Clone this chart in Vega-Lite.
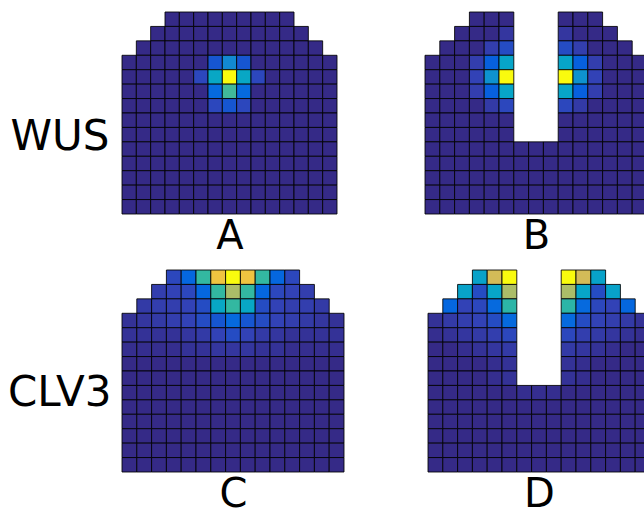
{
"$schema": "https://vega.github.io/schema/vega-lite/v6.json",
"padding": {"left": 7, "top": 11, "right": 0, "bottom": 0},
"background": "white",
"config": {
 "view": {"stroke": null},
 "scale": {"bandPaddingInner": 0, "bandPaddingOuter": 0, "rectBandPaddingInner": 0},
 "axis": {"labels": false, "ticks": false, "domain": false, "grid": false, "titleFont": "DejaVu Sans", "titleFontWeight": "normal", "titleColor": "#000", "titleBaseline": "alphabetic"}
},
"datasets": {
"A": [
{"r":0,"c":3,"v":0},{"r":0,"c":4,"v":0},{"r":0,"c":5,"v":0},{"r":0,"c":6,"v":0},{"r":0,"c":7,"v":0},{"r":0,"c":8,"v":0},{"r":0,"c":9,"v":0},{"r":0,"c":10,"v":0},{"r":0,"c":11,"v":0},
{"r":1,"c":2,"v":0},{"r":1,"c":3,"v":0},{"r":1,"c":4,"v":0},{"r":1,"c":5,"v":0},{"r":1,"c":6,"v":0},{"r":1,"c":7,"v":0},{"r":1,"c":8,"v":0},{"r":1,"c":9,"v":0},{"r":1,"c":10,"v":0},{"r":1,"c":11,"v":0},{"r":1,"c":12,"v":0},
{"r":2,"c":1,"v":0},{"r":2,"c":2,"v":0},{"r":2,"c":3,"v":0},{"r":2,"c":4,"v":0},{"r":2,"c":5,"v":0},{"r":2,"c":6,"v":0},{"r":2,"c":7,"v":0},{"r":2,"c":8,"v":0},{"r":2,"c":9,"v":0},{"r":2,"c":10,"v":0},{"r":2,"c":11,"v":0},{"r":2,"c":12,"v":0},{"r":2,"c":13,"v":0},
{"r":3,"c":0,"v":0},{"r":3,"c":1,"v":0},{"r":3,"c":2,"v":0},{"r":3,"c":3,"v":0},{"r":3,"c":4,"v":0},{"r":3,"c":5,"v":0},{"r":3,"c":6,"v":0.1},{"r":3,"c":7,"v":0.27},{"r":3,"c":8,"v":0.1},{"r":3,"c":9,"v":0},{"r":3,"c":10,"v":0},{"r":3,"c":11,"v":0},{"r":3,"c":12,"v":0},{"r":3,"c":13,"v":0},{"r":3,"c":14,"v":0},
{"r":4,"c":0,"v":0},{"r":4,"c":1,"v":0},{"r":4,"c":2,"v":0},{"r":4,"c":3,"v":0},{"r":4,"c":4,"v":0},{"r":4,"c":5,"v":0.07},{"r":4,"c":6,"v":0.38},{"r":4,"c":7,"v":1},{"r":4,"c":8,"v":0.38},{"r":4,"c":9,"v":0.07},{"r":4,"c":10,"v":0},{"r":4,"c":11,"v":0},{"r":4,"c":12,"v":0},{"r":4,"c":13,"v":0},{"r":4,"c":14,"v":0},
{"r":5,"c":0,"v":0},{"r":5,"c":1,"v":0},{"r":5,"c":2,"v":0},{"r":5,"c":3,"v":0},{"r":5,"c":4,"v":0},{"r":5,"c":5,"v":0},{"r":5,"c":6,"v":0.15},{"r":5,"c":7,"v":0.52},{"r":5,"c":8,"v":0.15},{"r":5,"c":9,"v":0},{"r":5,"c":10,"v":0},{"r":5,"c":11,"v":0},{"r":5,"c":12,"v":0},{"r":5,"c":13,"v":0},{"r":5,"c":14,"v":0},
{"r":6,"c":0,"v":0},{"r":6,"c":1,"v":0},{"r":6,"c":2,"v":0},{"r":6,"c":3,"v":0},{"r":6,"c":4,"v":0},{"r":6,"c":5,"v":0},{"r":6,"c":6,"v":0.07},{"r":6,"c":7,"v":0.1},{"r":6,"c":8,"v":0.07},{"r":6,"c":9,"v":0},{"r":6,"c":10,"v":0},{"r":6,"c":11,"v":0},{"r":6,"c":12,"v":0},{"r":6,"c":13,"v":0},{"r":6,"c":14,"v":0},
{"r":7,"c":0,"v":0},{"r":7,"c":1,"v":0},{"r":7,"c":2,"v":0},{"r":7,"c":3,"v":0},{"r":7,"c":4,"v":0},{"r":7,"c":5,"v":0},{"r":7,"c":6,"v":0},{"r":7,"c":7,"v":0},{"r":7,"c":8,"v":0},{"r":7,"c":9,"v":0},{"r":7,"c":10,"v":0},{"r":7,"c":11,"v":0},{"r":7,"c":12,"v":0},{"r":7,"c":13,"v":0},{"r":7,"c":14,"v":0},
{"r":8,"c":0,"v":0},{"r":8,"c":1,"v":0},{"r":8,"c":2,"v":0},{"r":8,"c":3,"v":0},{"r":8,"c":4,"v":0},{"r":8,"c":5,"v":0},{"r":8,"c":6,"v":0},{"r":8,"c":7,"v":0},{"r":8,"c":8,"v":0},{"r":8,"c":9,"v":0},{"r":8,"c":10,"v":0},{"r":8,"c":11,"v":0},{"r":8,"c":12,"v":0},{"r":8,"c":13,"v":0},{"r":8,"c":14,"v":0},
{"r":9,"c":0,"v":0},{"r":9,"c":1,"v":0},{"r":9,"c":2,"v":0},{"r":9,"c":3,"v":0},{"r":9,"c":4,"v":0},{"r":9,"c":5,"v":0},{"r":9,"c":6,"v":0},{"r":9,"c":7,"v":0},{"r":9,"c":8,"v":0},{"r":9,"c":9,"v":0},{"r":9,"c":10,"v":0},{"r":9,"c":11,"v":0},{"r":9,"c":12,"v":0},{"r":9,"c":13,"v":0},{"r":9,"c":14,"v":0},
{"r":10,"c":0,"v":0},{"r":10,"c":1,"v":0},{"r":10,"c":2,"v":0},{"r":10,"c":3,"v":0},{"r":10,"c":4,"v":0},{"r":10,"c":5,"v":0},{"r":10,"c":6,"v":0},{"r":10,"c":7,"v":0},{"r":10,"c":8,"v":0},{"r":10,"c":9,"v":0},{"r":10,"c":10,"v":0},{"r":10,"c":11,"v":0},{"r":10,"c":12,"v":0},{"r":10,"c":13,"v":0},{"r":10,"c":14,"v":0},
{"r":11,"c":0,"v":0},{"r":11,"c":1,"v":0},{"r":11,"c":2,"v":0},{"r":11,"c":3,"v":0},{"r":11,"c":4,"v":0},{"r":11,"c":5,"v":0},{"r":11,"c":6,"v":0},{"r":11,"c":7,"v":0},{"r":11,"c":8,"v":0},{"r":11,"c":9,"v":0},{"r":11,"c":10,"v":0},{"r":11,"c":11,"v":0},{"r":11,"c":12,"v":0},{"r":11,"c":13,"v":0},{"r":11,"c":14,"v":0},
{"r":12,"c":0,"v":0},{"r":12,"c":1,"v":0},{"r":12,"c":2,"v":0},{"r":12,"c":3,"v":0},{"r":12,"c":4,"v":0},{"r":12,"c":5,"v":0},{"r":12,"c":6,"v":0},{"r":12,"c":7,"v":0},{"r":12,"c":8,"v":0},{"r":12,"c":9,"v":0},{"r":12,"c":10,"v":0},{"r":12,"c":11,"v":0},{"r":12,"c":12,"v":0},{"r":12,"c":13,"v":0},{"r":12,"c":14,"v":0},
{"r":13,"c":0,"v":0},{"r":13,"c":1,"v":0},{"r":13,"c":2,"v":0},{"r":13,"c":3,"v":0},{"r":13,"c":4,"v":0},{"r":13,"c":5,"v":0},{"r":13,"c":6,"v":0},{"r":13,"c":7,"v":0},{"r":13,"c":8,"v":0},{"r":13,"c":9,"v":0},{"r":13,"c":10,"v":0},{"r":13,"c":11,"v":0},{"r":13,"c":12,"v":0},{"r":13,"c":13,"v":0},{"r":13,"c":14,"v":0}
],
"B": [
{"r":0,"c":3,"v":0},{"r":0,"c":4,"v":0},{"r":0,"c":5,"v":0},{"r":0,"c":9,"v":0},{"r":0,"c":10,"v":0},{"r":0,"c":11,"v":0},
{"r":1,"c":2,"v":0},{"r":1,"c":3,"v":0},{"r":1,"c":4,"v":0},{"r":1,"c":5,"v":0.03},{"r":1,"c":9,"v":0.03},{"r":1,"c":10,"v":0},{"r":1,"c":11,"v":0},{"r":1,"c":12,"v":0},
{"r":2,"c":1,"v":0},{"r":2,"c":2,"v":0},{"r":2,"c":3,"v":0},{"r":2,"c":4,"v":0.05},{"r":2,"c":5,"v":0.08},{"r":2,"c":9,"v":0.08},{"r":2,"c":10,"v":0.05},{"r":2,"c":11,"v":0},{"r":2,"c":12,"v":0},{"r":2,"c":13,"v":0},
{"r":3,"c":0,"v":0},{"r":3,"c":1,"v":0},{"r":3,"c":2,"v":0},{"r":3,"c":3,"v":0.05},{"r":3,"c":4,"v":0.12},{"r":3,"c":5,"v":0.37},{"r":3,"c":9,"v":0.37},{"r":3,"c":10,"v":0.12},{"r":3,"c":11,"v":0.05},{"r":3,"c":12,"v":0},{"r":3,"c":13,"v":0},{"r":3,"c":14,"v":0},
{"r":4,"c":0,"v":0},{"r":4,"c":1,"v":0},{"r":4,"c":2,"v":0},{"r":4,"c":3,"v":0.06},{"r":4,"c":4,"v":0.3},{"r":4,"c":5,"v":1},{"r":4,"c":9,"v":1},{"r":4,"c":10,"v":0.3},{"r":4,"c":11,"v":0.06},{"r":4,"c":12,"v":0},{"r":4,"c":13,"v":0},{"r":4,"c":14,"v":0},
{"r":5,"c":0,"v":0},{"r":5,"c":1,"v":0},{"r":5,"c":2,"v":0},{"r":5,"c":3,"v":0.05},{"r":5,"c":4,"v":0.12},{"r":5,"c":5,"v":0.37},{"r":5,"c":9,"v":0.37},{"r":5,"c":10,"v":0.12},{"r":5,"c":11,"v":0.05},{"r":5,"c":12,"v":0},{"r":5,"c":13,"v":0},{"r":5,"c":14,"v":0},
{"r":6,"c":0,"v":0},{"r":6,"c":1,"v":0},{"r":6,"c":2,"v":0},{"r":6,"c":3,"v":0},{"r":6,"c":4,"v":0.04},{"r":6,"c":5,"v":0.07},{"r":6,"c":9,"v":0.07},{"r":6,"c":10,"v":0.04},{"r":6,"c":11,"v":0},{"r":6,"c":12,"v":0},{"r":6,"c":13,"v":0},{"r":6,"c":14,"v":0},
{"r":7,"c":0,"v":0},{"r":7,"c":1,"v":0},{"r":7,"c":2,"v":0},{"r":7,"c":3,"v":0},{"r":7,"c":4,"v":0},{"r":7,"c":5,"v":0},{"r":7,"c":9,"v":0},{"r":7,"c":10,"v":0},{"r":7,"c":11,"v":0},{"r":7,"c":12,"v":0},{"r":7,"c":13,"v":0},{"r":7,"c":14,"v":0},
{"r":8,"c":0,"v":0},{"r":8,"c":1,"v":0},{"r":8,"c":2,"v":0},{"r":8,"c":3,"v":0},{"r":8,"c":4,"v":0},{"r":8,"c":5,"v":0},{"r":8,"c":9,"v":0},{"r":8,"c":10,"v":0},{"r":8,"c":11,"v":0},{"r":8,"c":12,"v":0},{"r":8,"c":13,"v":0},{"r":8,"c":14,"v":0},
{"r":9,"c":0,"v":0},{"r":9,"c":1,"v":0},{"r":9,"c":2,"v":0},{"r":9,"c":3,"v":0},{"r":9,"c":4,"v":0},{"r":9,"c":5,"v":0},{"r":9,"c":6,"v":0},{"r":9,"c":7,"v":0},{"r":9,"c":8,"v":0},{"r":9,"c":9,"v":0},{"r":9,"c":10,"v":0},{"r":9,"c":11,"v":0},{"r":9,"c":12,"v":0},{"r":9,"c":13,"v":0},{"r":9,"c":14,"v":0},
{"r":10,"c":0,"v":0},{"r":10,"c":1,"v":0},{"r":10,"c":2,"v":0},{"r":10,"c":3,"v":0},{"r":10,"c":4,"v":0},{"r":10,"c":5,"v":0},{"r":10,"c":6,"v":0},{"r":10,"c":7,"v":0},{"r":10,"c":8,"v":0},{"r":10,"c":9,"v":0},{"r":10,"c":10,"v":0},{"r":10,"c":11,"v":0},{"r":10,"c":12,"v":0},{"r":10,"c":13,"v":0},{"r":10,"c":14,"v":0},
{"r":11,"c":0,"v":0},{"r":11,"c":1,"v":0},{"r":11,"c":2,"v":0},{"r":11,"c":3,"v":0},{"r":11,"c":4,"v":0},{"r":11,"c":5,"v":0},{"r":11,"c":6,"v":0},{"r":11,"c":7,"v":0},{"r":11,"c":8,"v":0},{"r":11,"c":9,"v":0},{"r":11,"c":10,"v":0},{"r":11,"c":11,"v":0},{"r":11,"c":12,"v":0},{"r":11,"c":13,"v":0},{"r":11,"c":14,"v":0},
{"r":12,"c":0,"v":0},{"r":12,"c":1,"v":0},{"r":12,"c":2,"v":0},{"r":12,"c":3,"v":0},{"r":12,"c":4,"v":0},{"r":12,"c":5,"v":0},{"r":12,"c":6,"v":0},{"r":12,"c":7,"v":0},{"r":12,"c":8,"v":0},{"r":12,"c":9,"v":0},{"r":12,"c":10,"v":0},{"r":12,"c":11,"v":0},{"r":12,"c":12,"v":0},{"r":12,"c":13,"v":0},{"r":12,"c":14,"v":0},
{"r":13,"c":0,"v":0},{"r":13,"c":1,"v":0},{"r":13,"c":2,"v":0},{"r":13,"c":3,"v":0},{"r":13,"c":4,"v":0},{"r":13,"c":5,"v":0},{"r":13,"c":6,"v":0},{"r":13,"c":7,"v":0},{"r":13,"c":8,"v":0},{"r":13,"c":9,"v":0},{"r":13,"c":10,"v":0},{"r":13,"c":11,"v":0},{"r":13,"c":12,"v":0},{"r":13,"c":13,"v":0},{"r":13,"c":14,"v":0}
],
"C": [
{"r":0,"c":3,"v":0.07},{"r":0,"c":4,"v":0.14},{"r":0,"c":5,"v":0.5},{"r":0,"c":6,"v":0.83},{"r":0,"c":7,"v":1},{"r":0,"c":8,"v":0.83},{"r":0,"c":9,"v":0.5},{"r":0,"c":10,"v":0.14},{"r":0,"c":11,"v":0.07},
{"r":1,"c":2,"v":0.05},{"r":1,"c":3,"v":0.06},{"r":1,"c":4,"v":0.07},{"r":1,"c":5,"v":0.14},{"r":1,"c":6,"v":0.5},{"r":1,"c":7,"v":0.68},{"r":1,"c":8,"v":0.5},{"r":1,"c":9,"v":0.14},{"r":1,"c":10,"v":0.07},{"r":1,"c":11,"v":0.06},{"r":1,"c":12,"v":0.05},
{"r":2,"c":1,"v":0.04},{"r":2,"c":2,"v":0.05},{"r":2,"c":3,"v":0.05},{"r":2,"c":4,"v":0.06},{"r":2,"c":5,"v":0.08},{"r":2,"c":6,"v":0.38},{"r":2,"c":7,"v":0.5},{"r":2,"c":8,"v":0.38},{"r":2,"c":9,"v":0.08},{"r":2,"c":10,"v":0.06},{"r":2,"c":11,"v":0.05},{"r":2,"c":12,"v":0.05},{"r":2,"c":13,"v":0.04},
{"r":3,"c":0,"v":0.02},{"r":3,"c":1,"v":0.03},{"r":3,"c":2,"v":0.04},{"r":3,"c":3,"v":0.05},{"r":3,"c":4,"v":0.06},{"r":3,"c":5,"v":0.08},{"r":3,"c":6,"v":0.1},{"r":3,"c":7,"v":0.15},{"r":3,"c":8,"v":0.1},{"r":3,"c":9,"v":0.08},{"r":3,"c":10,"v":0.06},{"r":3,"c":11,"v":0.05},{"r":3,"c":12,"v":0.04},{"r":3,"c":13,"v":0.03},{"r":3,"c":14,"v":0.02},
{"r":4,"c":0,"v":0.02},{"r":4,"c":1,"v":0.02},{"r":4,"c":2,"v":0.02},{"r":4,"c":3,"v":0.02},{"r":4,"c":4,"v":0.03},{"r":4,"c":5,"v":0.04},{"r":4,"c":6,"v":0.06},{"r":4,"c":7,"v":0.08},{"r":4,"c":8,"v":0.06},{"r":4,"c":9,"v":0.04},{"r":4,"c":10,"v":0.03},{"r":4,"c":11,"v":0.02},{"r":4,"c":12,"v":0.02},{"r":4,"c":13,"v":0.02},{"r":4,"c":14,"v":0.02},
{"r":5,"c":0,"v":0.01},{"r":5,"c":1,"v":0.01},{"r":5,"c":2,"v":0.01},{"r":5,"c":3,"v":0.01},{"r":5,"c":4,"v":0.02},{"r":5,"c":5,"v":0.02},{"r":5,"c":6,"v":0.03},{"r":5,"c":7,"v":0.03},{"r":5,"c":8,"v":0.03},{"r":5,"c":9,"v":0.02},{"r":5,"c":10,"v":0.02},{"r":5,"c":11,"v":0.01},{"r":5,"c":12,"v":0.01},{"r":5,"c":13,"v":0.01},{"r":5,"c":14,"v":0.01},
{"r":6,"c":0,"v":0},{"r":6,"c":1,"v":0},{"r":6,"c":2,"v":0},{"r":6,"c":3,"v":0},{"r":6,"c":4,"v":0},{"r":6,"c":5,"v":0},{"r":6,"c":6,"v":0},{"r":6,"c":7,"v":0},{"r":6,"c":8,"v":0},{"r":6,"c":9,"v":0},{"r":6,"c":10,"v":0},{"r":6,"c":11,"v":0},{"r":6,"c":12,"v":0},{"r":6,"c":13,"v":0},{"r":6,"c":14,"v":0},
{"r":7,"c":0,"v":0},{"r":7,"c":1,"v":0},{"r":7,"c":2,"v":0},{"r":7,"c":3,"v":0},{"r":7,"c":4,"v":0},{"r":7,"c":5,"v":0},{"r":7,"c":6,"v":0},{"r":7,"c":7,"v":0},{"r":7,"c":8,"v":0},{"r":7,"c":9,"v":0},{"r":7,"c":10,"v":0},{"r":7,"c":11,"v":0},{"r":7,"c":12,"v":0},{"r":7,"c":13,"v":0},{"r":7,"c":14,"v":0},
{"r":8,"c":0,"v":0},{"r":8,"c":1,"v":0},{"r":8,"c":2,"v":0},{"r":8,"c":3,"v":0},{"r":8,"c":4,"v":0},{"r":8,"c":5,"v":0},{"r":8,"c":6,"v":0},{"r":8,"c":7,"v":0},{"r":8,"c":8,"v":0},{"r":8,"c":9,"v":0},{"r":8,"c":10,"v":0},{"r":8,"c":11,"v":0},{"r":8,"c":12,"v":0},{"r":8,"c":13,"v":0},{"r":8,"c":14,"v":0},
{"r":9,"c":0,"v":0},{"r":9,"c":1,"v":0},{"r":9,"c":2,"v":0},{"r":9,"c":3,"v":0},{"r":9,"c":4,"v":0},{"r":9,"c":5,"v":0},{"r":9,"c":6,"v":0},{"r":9,"c":7,"v":0},{"r":9,"c":8,"v":0},{"r":9,"c":9,"v":0},{"r":9,"c":10,"v":0},{"r":9,"c":11,"v":0},{"r":9,"c":12,"v":0},{"r":9,"c":13,"v":0},{"r":9,"c":14,"v":0},
{"r":10,"c":0,"v":0},{"r":10,"c":1,"v":0},{"r":10,"c":2,"v":0},{"r":10,"c":3,"v":0},{"r":10,"c":4,"v":0},{"r":10,"c":5,"v":0},{"r":10,"c":6,"v":0},{"r":10,"c":7,"v":0},{"r":10,"c":8,"v":0},{"r":10,"c":9,"v":0},{"r":10,"c":10,"v":0},{"r":10,"c":11,"v":0},{"r":10,"c":12,"v":0},{"r":10,"c":13,"v":0},{"r":10,"c":14,"v":0},
{"r":11,"c":0,"v":0},{"r":11,"c":1,"v":0},{"r":11,"c":2,"v":0},{"r":11,"c":3,"v":0},{"r":11,"c":4,"v":0},{"r":11,"c":5,"v":0},{"r":11,"c":6,"v":0},{"r":11,"c":7,"v":0},{"r":11,"c":8,"v":0},{"r":11,"c":9,"v":0},{"r":11,"c":10,"v":0},{"r":11,"c":11,"v":0},{"r":11,"c":12,"v":0},{"r":11,"c":13,"v":0},{"r":11,"c":14,"v":0},
{"r":12,"c":0,"v":0},{"r":12,"c":1,"v":0},{"r":12,"c":2,"v":0},{"r":12,"c":3,"v":0},{"r":12,"c":4,"v":0},{"r":12,"c":5,"v":0},{"r":12,"c":6,"v":0},{"r":12,"c":7,"v":0},{"r":12,"c":8,"v":0},{"r":12,"c":9,"v":0},{"r":12,"c":10,"v":0},{"r":12,"c":11,"v":0},{"r":12,"c":12,"v":0},{"r":12,"c":13,"v":0},{"r":12,"c":14,"v":0},
{"r":13,"c":0,"v":0},{"r":13,"c":1,"v":0},{"r":13,"c":2,"v":0},{"r":13,"c":3,"v":0},{"r":13,"c":4,"v":0},{"r":13,"c":5,"v":0},{"r":13,"c":6,"v":0},{"r":13,"c":7,"v":0},{"r":13,"c":8,"v":0},{"r":13,"c":9,"v":0},{"r":13,"c":10,"v":0},{"r":13,"c":11,"v":0},{"r":13,"c":12,"v":0},{"r":13,"c":13,"v":0},{"r":13,"c":14,"v":0}
],
"D": [
{"r":0,"c":3,"v":0.36},{"r":0,"c":4,"v":0.75},{"r":0,"c":5,"v":1},{"r":0,"c":9,"v":1},{"r":0,"c":10,"v":0.75},{"r":0,"c":11,"v":0.36},
{"r":1,"c":2,"v":0.36},{"r":1,"c":3,"v":0.08},{"r":1,"c":4,"v":0.37},{"r":1,"c":5,"v":0.68},{"r":1,"c":9,"v":0.68},{"r":1,"c":10,"v":0.37},{"r":1,"c":11,"v":0.08},{"r":1,"c":12,"v":0.36},
{"r":2,"c":1,"v":0.14},{"r":2,"c":2,"v":0.06},{"r":2,"c":3,"v":0.07},{"r":2,"c":4,"v":0.15},{"r":2,"c":5,"v":0.48},{"r":2,"c":9,"v":0.48},{"r":2,"c":10,"v":0.15},{"r":2,"c":11,"v":0.07},{"r":2,"c":12,"v":0.06},{"r":2,"c":13,"v":0.14},
{"r":3,"c":0,"v":0.02},{"r":3,"c":1,"v":0.04},{"r":3,"c":2,"v":0.05},{"r":3,"c":3,"v":0.06},{"r":3,"c":4,"v":0.08},{"r":3,"c":5,"v":0.15},{"r":3,"c":9,"v":0.15},{"r":3,"c":10,"v":0.08},{"r":3,"c":11,"v":0.06},{"r":3,"c":12,"v":0.05},{"r":3,"c":13,"v":0.04},{"r":3,"c":14,"v":0.02},
{"r":4,"c":0,"v":0.01},{"r":4,"c":1,"v":0.02},{"r":4,"c":2,"v":0.03},{"r":4,"c":3,"v":0.04},{"r":4,"c":4,"v":0.05},{"r":4,"c":5,"v":0.07},{"r":4,"c":9,"v":0.07},{"r":4,"c":10,"v":0.05},{"r":4,"c":11,"v":0.04},{"r":4,"c":12,"v":0.03},{"r":4,"c":13,"v":0.02},{"r":4,"c":14,"v":0.01},
{"r":5,"c":0,"v":0},{"r":5,"c":1,"v":0},{"r":5,"c":2,"v":0.01},{"r":5,"c":3,"v":0.02},{"r":5,"c":4,"v":0.03},{"r":5,"c":5,"v":0.04},{"r":5,"c":9,"v":0.04},{"r":5,"c":10,"v":0.03},{"r":5,"c":11,"v":0.02},{"r":5,"c":12,"v":0.01},{"r":5,"c":13,"v":0},{"r":5,"c":14,"v":0},
{"r":6,"c":0,"v":0},{"r":6,"c":1,"v":0},{"r":6,"c":2,"v":0},{"r":6,"c":3,"v":0},{"r":6,"c":4,"v":0.01},{"r":6,"c":5,"v":0.02},{"r":6,"c":9,"v":0.02},{"r":6,"c":10,"v":0.01},{"r":6,"c":11,"v":0},{"r":6,"c":12,"v":0},{"r":6,"c":13,"v":0},{"r":6,"c":14,"v":0},
{"r":7,"c":0,"v":0},{"r":7,"c":1,"v":0},{"r":7,"c":2,"v":0},{"r":7,"c":3,"v":0},{"r":7,"c":4,"v":0.01},{"r":7,"c":5,"v":0.02},{"r":7,"c":9,"v":0.02},{"r":7,"c":10,"v":0.01},{"r":7,"c":11,"v":0},{"r":7,"c":12,"v":0},{"r":7,"c":13,"v":0},{"r":7,"c":14,"v":0},
{"r":8,"c":0,"v":0},{"r":8,"c":1,"v":0},{"r":8,"c":2,"v":0},{"r":8,"c":3,"v":0},{"r":8,"c":4,"v":0},{"r":8,"c":5,"v":0},{"r":8,"c":6,"v":0.01},{"r":8,"c":7,"v":0.01},{"r":8,"c":8,"v":0.01},{"r":8,"c":9,"v":0},{"r":8,"c":10,"v":0},{"r":8,"c":11,"v":0},{"r":8,"c":12,"v":0},{"r":8,"c":13,"v":0},{"r":8,"c":14,"v":0},
{"r":9,"c":0,"v":0},{"r":9,"c":1,"v":0},{"r":9,"c":2,"v":0},{"r":9,"c":3,"v":0},{"r":9,"c":4,"v":0},{"r":9,"c":5,"v":0},{"r":9,"c":6,"v":0},{"r":9,"c":7,"v":0},{"r":9,"c":8,"v":0},{"r":9,"c":9,"v":0},{"r":9,"c":10,"v":0},{"r":9,"c":11,"v":0},{"r":9,"c":12,"v":0},{"r":9,"c":13,"v":0},{"r":9,"c":14,"v":0},
{"r":10,"c":0,"v":0},{"r":10,"c":1,"v":0},{"r":10,"c":2,"v":0},{"r":10,"c":3,"v":0},{"r":10,"c":4,"v":0},{"r":10,"c":5,"v":0},{"r":10,"c":6,"v":0},{"r":10,"c":7,"v":0},{"r":10,"c":8,"v":0},{"r":10,"c":9,"v":0},{"r":10,"c":10,"v":0},{"r":10,"c":11,"v":0},{"r":10,"c":12,"v":0},{"r":10,"c":13,"v":0},{"r":10,"c":14,"v":0},
{"r":11,"c":0,"v":0},{"r":11,"c":1,"v":0},{"r":11,"c":2,"v":0},{"r":11,"c":3,"v":0},{"r":11,"c":4,"v":0},{"r":11,"c":5,"v":0},{"r":11,"c":6,"v":0},{"r":11,"c":7,"v":0},{"r":11,"c":8,"v":0},{"r":11,"c":9,"v":0},{"r":11,"c":10,"v":0},{"r":11,"c":11,"v":0},{"r":11,"c":12,"v":0},{"r":11,"c":13,"v":0},{"r":11,"c":14,"v":0},
{"r":12,"c":0,"v":0},{"r":12,"c":1,"v":0},{"r":12,"c":2,"v":0},{"r":12,"c":3,"v":0},{"r":12,"c":4,"v":0},{"r":12,"c":5,"v":0},{"r":12,"c":6,"v":0},{"r":12,"c":7,"v":0},{"r":12,"c":8,"v":0},{"r":12,"c":9,"v":0},{"r":12,"c":10,"v":0},{"r":12,"c":11,"v":0},{"r":12,"c":12,"v":0},{"r":12,"c":13,"v":0},{"r":12,"c":14,"v":0},
{"r":13,"c":0,"v":0},{"r":13,"c":1,"v":0},{"r":13,"c":2,"v":0},{"r":13,"c":3,"v":0},{"r":13,"c":4,"v":0},{"r":13,"c":5,"v":0},{"r":13,"c":6,"v":0},{"r":13,"c":7,"v":0},{"r":13,"c":8,"v":0},{"r":13,"c":9,"v":0},{"r":13,"c":10,"v":0},{"r":13,"c":11,"v":0},{"r":13,"c":12,"v":0},{"r":13,"c":13,"v":0},{"r":13,"c":14,"v":0}
]
},
"vconcat": [
 {"hconcat": [
  {"width": 215, "height": 202, "data": {"name": "A"},
   "mark": {"type": "rect", "stroke": "#000", "strokeWidth": 1, "strokeOpacity": 0.85},
   "encoding": {
    "x": {"field": "c", "type": "ordinal", "scale": {"domain": [0,1,2,3,4,5,6,7,8,9,10,11,12,13,14]}, "axis": {"title": "A", "titleFontSize": 40, "titleY": 34}},
    "y": {"field": "r", "type": "ordinal", "scale": {"domain": [0,1,2,3,4,5,6,7,8,9,10,11,12,13]}, "axis": {"title": "WUS", "titleFontSize": 42, "titleAngle": 0, "titleAlign": "right", "titleX": -13, "titleY": 137}},
    "color": {"field": "v", "type": "quantitative", "legend": null, "scale": {"domain": [0,0.0625,0.125,0.25,0.375,0.5,0.625,0.75,0.875,1], "range": ["#352a87","#3243b8","#0363e1","#1484d4","#06a6c7","#33b8a1","#8cbf75","#d3bb58","#fec932","#f9fb0e"], "interpolate": "rgb"}}
   }},
  {"width": 222, "height": 202, "data": {"name": "B"},
   "mark": {"type": "rect", "stroke": "#000", "strokeWidth": 1, "strokeOpacity": 0.85},
   "encoding": {
    "x": {"field": "c", "type": "ordinal", "scale": {"domain": [0,1,2,3,4,5,6,7,8,9,10,11,12,13,14]}, "axis": {"title": "B", "titleFontSize": 40, "titleY": 34}},
    "y": {"field": "r", "type": "ordinal", "scale": {"domain": [0,1,2,3,4,5,6,7,8,9,10,11,12,13]}, "axis": null},
    "color": {"field": "v", "type": "quantitative", "legend": null, "scale": {"domain": [0,0.0625,0.125,0.25,0.375,0.5,0.625,0.75,0.875,1], "range": ["#352a87","#3243b8","#0363e1","#1484d4","#06a6c7","#33b8a1","#8cbf75","#d3bb58","#fec932","#f9fb0e"], "interpolate": "rgb"}}
   }}
 ], "spacing": 88, "bounds": "flush"},
 {"hconcat": [
  {"width": 222, "height": 202, "data": {"name": "C"},
   "mark": {"type": "rect", "stroke": "#000", "strokeWidth": 1, "strokeOpacity": 0.85},
   "encoding": {
    "x": {"field": "c", "type": "ordinal", "scale": {"domain": [0,1,2,3,4,5,6,7,8,9,10,11,12,13,14]}, "axis": {"title": "C", "titleFontSize": 40, "titleY": 34}},
    "y": {"field": "r", "type": "ordinal", "scale": {"domain": [0,1,2,3,4,5,6,7,8,9,10,11,12,13]}, "axis": {"title": "CLV3", "titleFontSize": 42, "titleAngle": 0, "titleAlign": "right", "titleX": -11, "titleY": 135}},
    "color": {"field": "v", "type": "quantitative", "legend": null, "scale": {"domain": [0,0.0625,0.125,0.25,0.375,0.5,0.625,0.75,0.875,1], "range": ["#352a87","#3243b8","#0363e1","#1484d4","#06a6c7","#33b8a1","#8cbf75","#d3bb58","#fec932","#f9fb0e"], "interpolate": "rgb"}}
   }},
  {"width": 222, "height": 202, "data": {"name": "D"},
   "mark": {"type": "rect", "stroke": "#000", "strokeWidth": 1, "strokeOpacity": 0.85},
   "encoding": {
    "x": {"field": "c", "type": "ordinal", "scale": {"domain": [0,1,2,3,4,5,6,7,8,9,10,11,12,13,14]}, "axis": {"title": "D", "titleFontSize": 40, "titleY": 34}},
    "y": {"field": "r", "type": "ordinal", "scale": {"domain": [0,1,2,3,4,5,6,7,8,9,10,11,12,13]}, "axis": null},
    "color": {"field": "v", "type": "quantitative", "legend": null, "scale": {"domain": [0,0.0625,0.125,0.25,0.375,0.5,0.625,0.75,0.875,1], "range": ["#352a87","#3243b8","#0363e1","#1484d4","#06a6c7","#33b8a1","#8cbf75","#d3bb58","#fec932","#f9fb0e"], "interpolate": "rgb"}}
   }}
 ], "spacing": 84, "bounds": "flush"}
],
"spacing": 13,
"resolve": {"scale": {"color": "independent"}}
}
